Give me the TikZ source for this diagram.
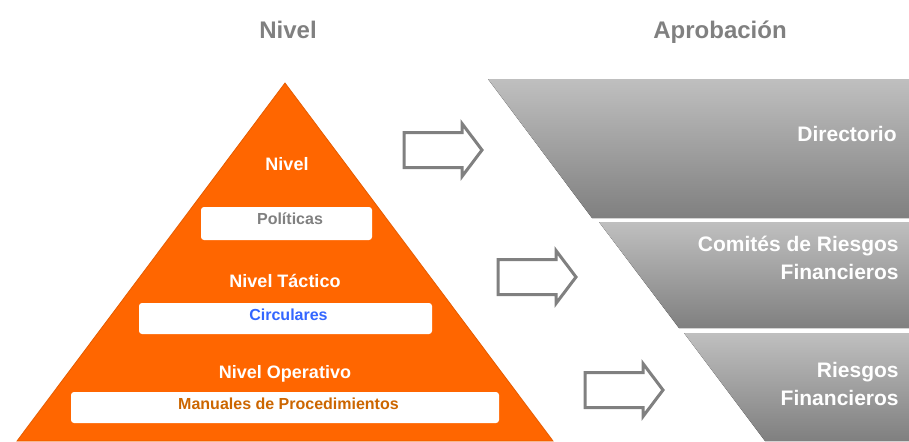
\documentclass[tikz,border=0pt]{standalone}
\usepackage{fontspec}
\setmainfont{Liberation Sans}
\usepackage{xcolor}
\usetikzlibrary{positioning}
\definecolor{pyrorange}{HTML}{FF6600}
\definecolor{pyredge}{HTML}{E65C00}
\definecolor{headgray}{HTML}{808080}
\definecolor{circblue}{HTML}{3366FF}
\definecolor{manbrown}{HTML}{CC6600}
\tikzstyle{heading} = [font=\fontsize{12}{14}\selectfont\bfseries, text=headgray,
    anchor=base, inner sep=0]
\tikzstyle{leveltext} = [font=\fontsize{9}{11}\selectfont\bfseries, text=white,
    anchor=base, inner sep=0]
\tikzstyle{whitebox} = [fill=white, rounded corners=1.5pt, inner sep=0]
\tikzstyle{boxtext} = [font=\fontsize{8}{10}\selectfont\bfseries, anchor=base, inner sep=0]
\tikzstyle{band} = [top color=black!25, bottom color=black!50, draw=none]
\tikzstyle{bandtext} = [font=\fontsize{10.5}{14}\selectfont\bfseries, text=white,
    align=right, anchor=base east, inner sep=0]
\tikzstyle{blockarrow} = [draw=headgray, line width=1.5pt, fill=white, line join=miter]
% hollow arrow: left end x, middle y
\newcommand{\hollowarrow}[2]{%
  \draw[blockarrow] (#1,#2-17.5) -- ++(58,0) -- ++(0,-9) -- (#1+78,#2)
    -- (#1+58,#2+26.5) -- ++(0,-9) -- (#1,#2+17.5) -- cycle;}

\begin{document}
\begin{tikzpicture}[x=0.5pt, y=-0.5pt]
\useasboundingbox (0,0) rectangle (909,441);

\node[heading] (nivelhead) at (288,38.5) {Nivel};
\node[heading] (aprobhead) at (720,38.5) {Aprobación};

% pyramid
\filldraw[fill=pyrorange, draw=pyredge, line width=0.4pt]
    (285,83) -- (553,441) -- (17,441) -- cycle;

\node[leveltext] (estrat) at (287,170.5) {Nivel};
\node[whitebox, minimum width=85.5pt, minimum height=16.5pt] (polbox) at (286.5,223.5) {};
\node[boxtext, text=headgray] (pol) at (290,224) {Políticas};

\node[leveltext] (tact) at (285,287.5) {Nivel Táctico};
\node[whitebox, minimum width=146.5pt, minimum height=15.5pt] (circbox) at (285.5,318.5) {};
\node[boxtext, text=circblue] (circ) at (288.5,320) {Circulares};

\node[leveltext] (oper) at (285,378.5) {Nivel Operativo};
\node[whitebox, minimum width=214pt, minimum height=15.5pt] (manbox) at (285,407.5) {};
\node[boxtext, text=manbrown] (man) at (288.5,409) {Manuales de Procedimientos};

% approval bands
\fill[band] (488,79) -- (909,79) -- (909,218) -- (592,218) -- cycle;
\fill[band] (599,222) -- (909,222) -- (909,328) -- (679,328) -- cycle;
\fill[band] (684,333) -- (909,333) -- (909,441) -- (765,441) -- cycle;

\node[bandtext] (direc) at (897,141.5) {Directorio};
\node[bandtext] (comite) at (899,279.5) {Comités de Riesgos\\Financieros};
\node[bandtext] (riesgo) at (899,405.5) {Riesgos\\Financieros};

% arrows
\hollowarrow{404}{150}
\hollowarrow{498}{277}
\hollowarrow{585}{390}
\end{tikzpicture}
\end{document}
